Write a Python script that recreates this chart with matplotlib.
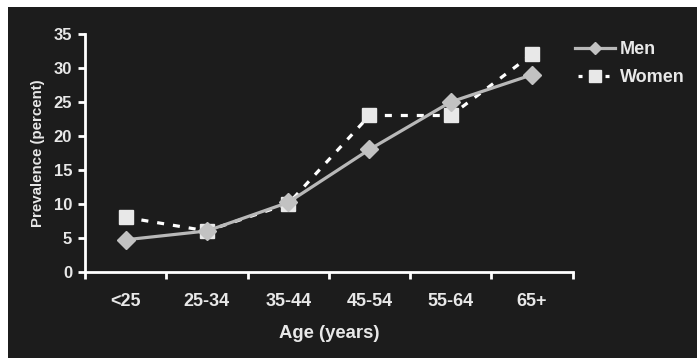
import matplotlib
matplotlib.use("Agg")
import matplotlib.pyplot as plt
from matplotlib.patches import Rectangle

categories = ["<25", "25-34", "35-44", "45-54", "55-64", "65+"]
men = [4.7, 6.0, 10.2, 18.0, 25.0, 29.0]
women = [8.0, 6.0, 10.0, 23.0, 23.0, 32.0]
yticks = [0, 5, 10, 15, 20, 25, 30, 35]

W, H = 697, 358
plt.rcParams['font.family'] = ['Liberation Sans', 'DejaVu Sans']
plt.rcParams['font.weight'] = 'bold'

fig = plt.figure(figsize=(W / 100, H / 100), dpi=100, facecolor='white')
bg = '#1c1c1c'
fig.patches.append(Rectangle((8 / W, 0), 1 - 8 / W, 1 - 7 / H, transform=fig.transFigure,
                             facecolor=bg, edgecolor='none', zorder=-10))

ax = fig.add_axes([85 / W, 1 - 271.7 / H, (572.7 - 85) / W, (271.7 - 34) / H])
ax.set_zorder(5)
ax.set_facecolor('none')

x = list(range(len(categories)))
ax.plot(x, men, color='#b8b8b8', lw=2.3, marker='D', ms=9.5, mfc='#c2c2c2', mec='#c2c2c2',
        label='Men', zorder=3)
ax.plot(x, women, color='white', lw=2.3, ls=(0, (2.2, 2.8)), marker='s', ms=10.5,
        mfc='#e8e8e8', mec='#e8e8e8', label='Women', zorder=2)

ax.set_xlim(-0.5, len(categories) - 0.5)
ax.set_ylim(0, 35)
ax.set_yticks(yticks)
ax.set_yticklabels([str(v) for v in yticks])
ax.set_xticks(x)
ax.set_xticklabels(categories)
ax.set_xticks([i - 0.5 for i in range(len(categories) + 1)], minor=True)

for s in ['top', 'right']:
    ax.spines[s].set_visible(False)
for s in ['left', 'bottom']:
    ax.spines[s].set_color('white')
    ax.spines[s].set_linewidth(2)

ax.tick_params(axis='y', colors='white', labelcolor='#e8e8e8', length=5, width=2,
               labelsize=12, pad=4.3)
ax.tick_params(axis='x', which='major', length=0, labelcolor='#e8e8e8', labelsize=13, pad=15)
ax.tick_params(axis='x', which='minor', colors='white', length=5, width=2)

ax.set_ylabel('Prevalence (percent)', color='#e8e8e8', fontsize=10.8, fontweight='bold', labelpad=6)
ax.set_xlabel('Age (years)', color='#e8e8e8', fontsize=13.3, fontweight='bold', labelpad=11)

leg = fig.legend(loc='upper left', bbox_to_anchor=(559 / W, 1 - 25 / H), frameon=False,
                 handlelength=2.2, handletextpad=0.28, labelspacing=0.6,
                 prop={'family': 'Liberation Sans', 'weight': 'bold', 'size': 13})
leg.set_zorder(6)
leg.legend_handles[0].set_markersize(6.5)
leg.legend_handles[1].set_markersize(8.5)
leg.legend_handles[1].set_linestyle((7.5, (1.25, 7.2)))
for t in leg.get_texts():
    t.set_color('#e8e8e8')

fig.savefig('out.png', dpi=100, facecolor='white')
